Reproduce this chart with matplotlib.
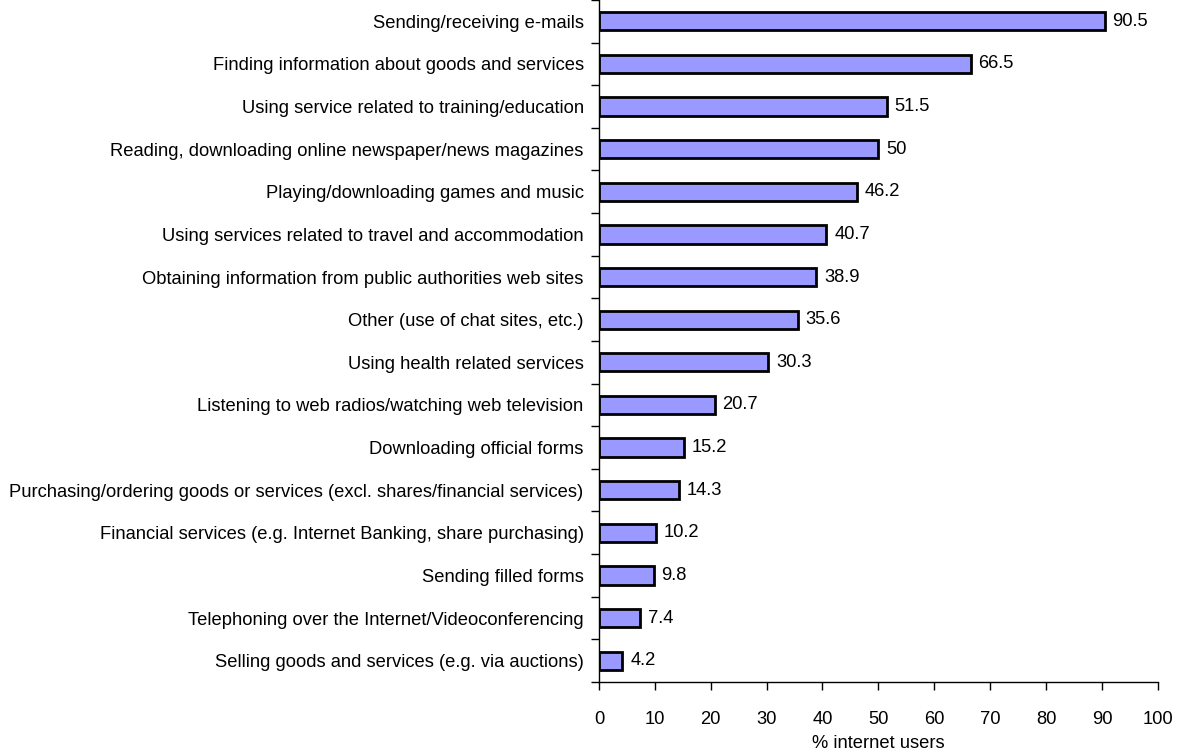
import matplotlib
matplotlib.use("Agg")
import matplotlib.pyplot as plt
import numpy as np

plt.rcParams['font.family'] = ['Liberation Sans', 'DejaVu Sans']

activities = [
    "Sending/receiving e-mails",
    "Finding information about goods and services",
    "Using service related to training/education",
    "Reading, downloading online newspaper/news magazines",
    "Playing/downloading games and music",
    "Using services related to travel and accommodation",
    "Obtaining information from public authorities web sites",
    "Other (use of chat sites, etc.)",
    "Using health related services",
    "Listening to web radios/watching web television",
    "Downloading official forms",
    "Purchasing/ordering goods or services (excl. shares/financial services)",
    "Financial services (e.g. Internet Banking, share purchasing)",
    "Sending filled forms",
    "Telephoning over the Internet/Videoconferencing",
    "Selling goods and services (e.g. via auctions)",
]
share = [90.5, 66.5, 51.5, 50, 46.2, 40.7, 38.9, 35.6, 30.3, 20.7,
         15.2, 14.3, 10.2, 9.8, 7.4, 4.2]
value_labels = ["90.5", "66.5", "51.5", "50", "46.2", "40.7", "38.9", "35.6",
                "30.3", "20.7", "15.2", "14.3", "10.2", "9.8", "7.4", "4.2"]

n = len(activities)
y = np.arange(n)
fs = 13.2

fig = plt.figure(figsize=(11.79, 7.53), dpi=100)
ax = fig.add_axes([0.508, 0.0943, 0.474, 0.9057])

ax.barh(y, share, height=0.43, color="#9999FF", edgecolor="black", linewidth=2)
for yi, v, txt in zip(y, share, value_labels):
    ax.text(v + 1.4, yi, txt, va="center", ha="left", fontsize=fs)

ax.set_ylim(n - 0.5, -0.5)
ax.set_xlim(0, 100)
ax.set_xticks(np.arange(0, 101, 10))
ax.set_yticks(y)
ax.set_yticklabels(activities, fontsize=fs)
ax.set_yticks(np.arange(-0.5, n, 1), minor=True)
ax.tick_params(axis="y", which="major", length=0, pad=11)
ax.tick_params(axis="y", which="minor", length=6, width=1, direction="out")
ax.tick_params(axis="x", length=6, width=1, direction="out", labelsize=fs, pad=15)

for side in ["top", "right"]:
    ax.spines[side].set_visible(False)
ax.spines["left"].set_linewidth(1)
ax.spines["bottom"].set_linewidth(1)

ax.set_xlabel("% internet users", fontsize=fs, labelpad=5)

fig.savefig("out.png", dpi=100)
